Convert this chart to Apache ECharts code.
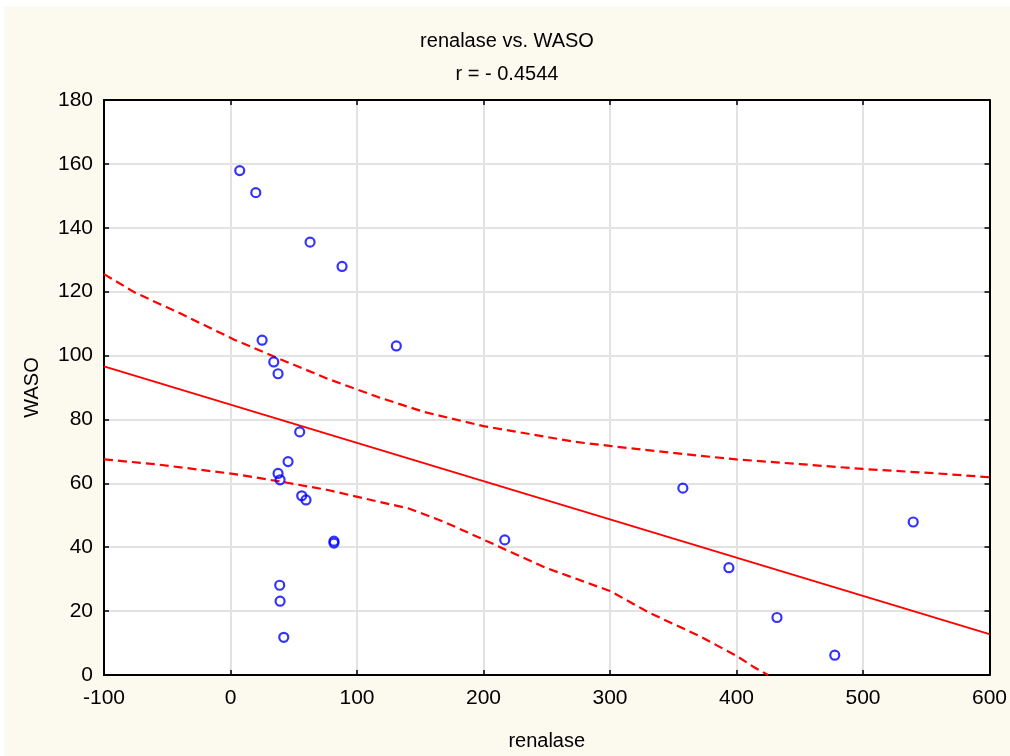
<!DOCTYPE html>
<html>
<head>
<meta charset="utf-8">
<script src="https://cdn.jsdelivr.net/npm/echarts@6/dist/echarts.min.js"></script>
<style>
html,body{margin:0;padding:0;background:#ffffff;}
#chart{position:absolute;left:4px;top:7px;width:1006px;height:749px;background:#FCF9EF;}
</style>
</head>
<body>
<div id="chart"></div>
<script>
// Scatter data (renalase vs WASO)
const renalase = [7.3, 20.0, 62.9, 88.2, 25.0, 131.1, 34.2, 37.6, 54.7, 45.5, 37.6, 39.2, 56.3, 59.7, 81.8, 81.8, 38.9, 39.2, 42.1, 216.8, 357.6, 394.0, 432.0, 477.7, 539.7];
const waso = [157.9, 151.0, 135.5, 127.9, 104.8, 103.0, 98.0, 94.3, 76.1, 66.8, 63.1, 61.1, 56.1, 54.8, 41.9, 41.3, 28.1, 23.1, 11.8, 42.3, 58.5, 33.6, 18.0, 6.2, 47.9];

// Regression line endpoints
const fitX = [-100, 600];
const fitY = [96.6, 12.8];

// 95% confidence band
const upperX = [-100, -75.5, -44, 3.4, 40.3, 77.1, 116.6, 153.4, 200, 272.3, 300, 357.2, 400, 450.7, 500, 558.9, 600];
const upperY = [125.5, 119.7, 114.0, 104.9, 98.7, 92.7, 87.0, 82.3, 77.9, 73.0, 71.7, 69.2, 67.5, 66.0, 64.5, 63.1, 61.9];
const lowerX = [-100, -59.8, 3.4, 40.3, 77.1, 116.6, 140.3, 167.9, 200, 249.5, 300, 331.1, 370.6, 400, 414, 425];
const lowerY = [67.5, 66.0, 62.9, 60.5, 57.9, 54.3, 52.2, 48.1, 42.4, 33.5, 26.3, 19.5, 12.2, 6.0, 2.4, 0];

const xTicks = [-100, 0, 100, 200, 300, 400, 500, 600];
const yTicks = [0, 20, 40, 60, 80, 100, 120, 140, 160, 180];

const titleMain = 'renalase vs. WASO';
const titleSub = 'r = - 0.4544';
const xName = 'renalase';
const yName = 'WASO';

const zip = (a, b) => a.map((v, i) => [v, b[i]]);
const FONT = '"Liberation Sans", Arial, sans-serif';

const chart = echarts.init(document.getElementById('chart'), null, {renderer: 'canvas'});

const baseAxisLine = {show: true, onZero: false, lineStyle: {color: '#000', width: 2}};
const baseTick = {show: true, inside: true, length: 5, lineStyle: {color: '#000', width: 1.5}};

const option = {
  backgroundColor: '#FCF9EF',
  animation: false,
  title: [
    {text: titleMain, left: 'center', top: 19, textStyle: {fontFamily: FONT, fontSize: 20, fontWeight: 'normal', color: '#000'}},
    {text: titleSub, left: 'center', top: 52, textStyle: {fontFamily: FONT, fontSize: 20, fontWeight: 'normal', color: '#000'}}
  ],
  grid: {left: 100, right: 20, top: 93, bottom: 81, backgroundColor: '#ffffff', show: true, borderWidth: 0},
  xAxis: [
    {
      type: 'value', min: xTicks[0], max: xTicks[xTicks.length - 1], interval: 100,
      position: 'bottom',
      name: xName, nameLocation: 'middle', nameGap: 56,
      nameTextStyle: {fontFamily: FONT, fontSize: 20, color: '#000'},
      axisLine: baseAxisLine, axisTick: baseTick,
      axisLabel: {fontFamily: FONT, fontSize: 21, color: '#000', margin: 13},
      splitLine: {show: true, lineStyle: {color: '#e2e2e2', width: 2}}
    },
    {
      type: 'value', min: xTicks[0], max: xTicks[xTicks.length - 1], interval: 100,
      position: 'top', axisLine: baseAxisLine, axisTick: baseTick,
      axisLabel: {show: false}, splitLine: {show: false}
    }
  ],
  yAxis: [
    {
      type: 'value', min: yTicks[0], max: yTicks[yTicks.length - 1], interval: 20,
      position: 'left',
      name: yName, nameLocation: 'middle', nameGap: 62,
      nameTextStyle: {fontFamily: FONT, fontSize: 20, color: '#000'},
      axisLine: baseAxisLine, axisTick: baseTick,
      axisLabel: {fontFamily: FONT, fontSize: 21, color: '#000', margin: 11},
      splitLine: {show: true, lineStyle: {color: '#e2e2e2', width: 2}}
    },
    {
      type: 'value', min: yTicks[0], max: yTicks[yTicks.length - 1], interval: 20,
      position: 'right', axisLine: baseAxisLine, axisTick: baseTick,
      axisLabel: {show: false}, splitLine: {show: false}
    }
  ],
  series: [
    {
      type: 'line', data: zip(fitX, fitY), showSymbol: false, symbol: 'none',
      lineStyle: {color: '#ff0000', width: 2}, z: 3, silent: true
    },
    {
      type: 'line', data: zip(upperX, upperY), showSymbol: false, symbol: 'none',
      lineStyle: {color: '#ff0000', width: 2.2, type: [9, 5]}, z: 3, silent: true
    },
    {
      type: 'line', data: zip(lowerX, lowerY), showSymbol: false, symbol: 'none',
      lineStyle: {color: '#ff0000', width: 2.2, type: [9, 5]}, z: 3, silent: true
    },
    {
      type: 'scatter', data: zip(renalase, waso), symbol: 'circle', symbolSize: 9,
      itemStyle: {color: 'rgba(255,255,255,0)', borderColor: '#0000ff', borderWidth: 2.2},
      z: 5
    }
  ]
};
chart.setOption(option);
</script>
</body>
</html>
